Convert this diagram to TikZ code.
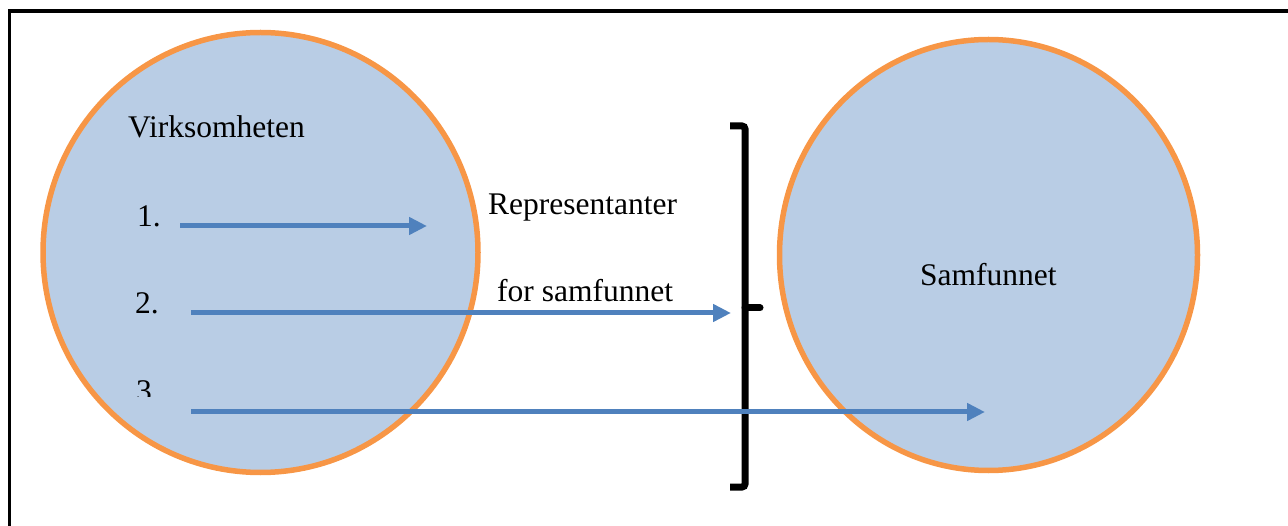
\documentclass[tikz,border=0pt]{standalone}
\usepackage{fontspec}
\setmainfont{Liberation Serif}
\newfontfamily\lblfont{Liberation Serif}
\usetikzlibrary{arrows.meta,shapes.geometric}
\definecolor{fillblue}{HTML}{B9CDE5}
\definecolor{ringorange}{HTML}{F79646}
\definecolor{arrowblue}{HTML}{4F81BD}
\tikzset{
  circ/.style={ellipse, draw=ringorange, line width=5.5pt, fill=fillblue, inner sep=0pt},
  arr/.style={draw=arrowblue, line width=5pt, -{Triangle[length=18pt,width=17pt]}},
  lbl/.style={anchor=base west, inner sep=0pt, font=\lblfont\fontsize{31.5}{36}\selectfont},
  brace/.style={draw=black, line width=7pt, rounded corners=3pt}
}
\begin{document}
\begin{tikzpicture}[x=1pt,y=-1pt]
\useasboundingbox (0,0) rectangle (1288,526);
% frame (cut at right and bottom)
\draw[line width=3.5pt] (9.5,526) -- (9.5,11) -- (1288,11);
% circles
\node[circ, minimum width=435pt, minimum height=440pt] (virk) at (260.5,252.5) {};
\node[circ, minimum width=418pt, minimum height=431pt] (samf) at (988.5,255) {};
% bracket
\draw[brace] (730,126) -- (745,126) -- (745,487) -- (730,487);
\draw[draw=black, line width=7pt, line cap=round] (745,308) -- (760,308);
% arrow endpoints
\coordinate (s1) at (180,226);
\coordinate (e1) at (427,226);
\coordinate (s2) at (191,313);
\coordinate (e2) at (731,313);
\coordinate (s3) at (191,412);
\coordinate (e3) at (985,412);
\draw[arr] (s1) -- (e1);
\draw[arr] (s2) -- (e2);
\draw[arr] (s3) -- (e3);
% texts
\node[lbl] (t0) at (128,138) {Virksomheten};
\node[lbl] (t1) at (137,227) {1.};
\node[lbl] (t2) at (135,314) {2.};
\begin{scope}
\clip (100,360) rectangle (220,397);
\node[lbl] (t3) at (136,402) {3.};
\end{scope}
\node[lbl] (r1) at (488,215) {Representanter};
\node[lbl] (r2) at (497,302) {for samfunnet};
\node[lbl] (sm) at (920,286) {Samfunnet};
\end{tikzpicture}
\end{document}
